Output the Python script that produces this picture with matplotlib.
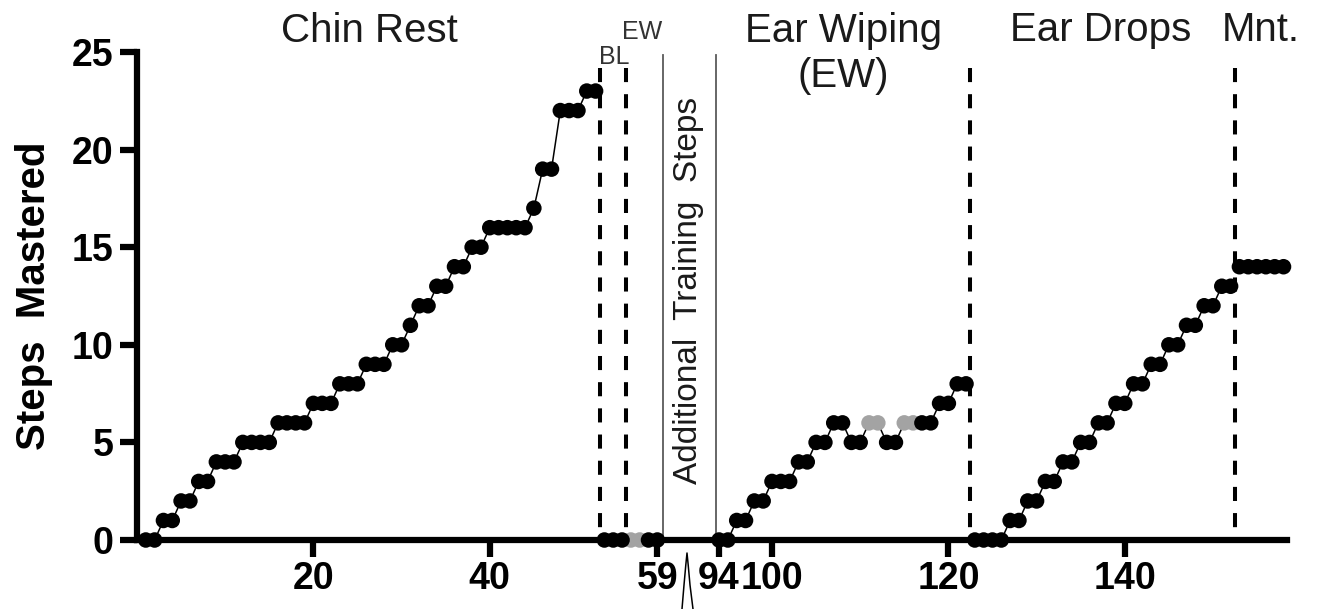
import numpy as np
import matplotlib
matplotlib.use("Agg")
from matplotlib import pyplot as plt
from matplotlib.lines import Line2D

plt.rcParams['font.family'] = ['Liberation Sans', 'DejaVu Sans']

# Daten: Sitzung -> gemeisterte Schritte, je Phase
chin_x = list(range(1, 53))
chin_y = [0, 0, 1, 1, 2, 2, 3, 3, 4, 4, 4, 5, 5, 5, 5, 6, 6, 6, 6, 7, 7, 7,
          8, 8, 8, 9, 9, 9, 10, 10, 11, 12, 12, 13, 13, 14, 14, 15, 15,
          16, 16, 16, 16, 16, 17, 19, 19, 22, 22, 22, 23, 23]
bl_x = [53, 54, 55]
bl_y = [0, 0, 0]
ew1_x = [56, 57, 58, 59]
ew1_y = [0, 0, 0, 0]
ew2_x = list(range(94, 123))
ew2_y = [0, 0, 1, 1, 2, 2, 3, 3, 3, 4, 4, 5, 5, 6, 6, 5, 5, 6, 6, 5, 5,
         6, 6, 6, 6, 7, 7, 8, 8]
drops_x = list(range(123, 153))
drops_y = [0, 0, 0, 0, 1, 1, 2, 2, 3, 3, 4, 4, 5, 5, 6, 6, 7, 7, 8, 8,
           9, 9, 10, 10, 11, 11, 12, 12, 13, 13]
mnt_x = list(range(153, 159))
mnt_y = [14, 14, 14, 14, 14, 14]

gray_sessions = [56, 57, 111, 112, 115, 116]
phase_lines = [52.5, 55.5, 122.5, 152.5]
gap_lines = [62.2, 92.0]

xticks = [20, 40, 59, 94, 100, 120, 140]
yticks = [0, 5, 10, 15, 20, 25]


# gebrochene x-Achse: 59..94 wird auf 7 Einheiten gestaucht
def fwd(v):
    return np.interp(v, [-100, 59, 94, 400], [-100, 59, 66, 372])


def inv(v):
    return np.interp(v, [-100, 59, 66, 372], [-100, 59, 94, 400])


fig = plt.figure(figsize=(13.39, 6.09), dpi=100)
ax = fig.add_axes([0.1023, 0.1133, 0.8589, 0.8013])
ax.set_xscale('function', functions=(fwd, inv))
ax.set_xlim(0, 158.4)
ax.set_ylim(0, 25)

phases = [(chin_x, chin_y), (bl_x, bl_y), (ew1_x, ew1_y), (ew2_x, ew2_y),
          (drops_x, drops_y), (mnt_x, mnt_y)]
for xs, ys in phases:
    ax.plot(xs, ys, color='black', lw=1.1, zorder=3, clip_on=False)
    gx = [x for x in xs if x in gray_sessions]
    gy = [y for x, y in zip(xs, ys) if x in gray_sessions]
    bx = [x for x in xs if x not in gray_sessions]
    by = [y for x, y in zip(xs, ys) if x not in gray_sessions]
    if gx:
        ax.scatter(gx, gy, s=125, color='#a3a3a3', edgecolors='none', zorder=4, clip_on=False)
    ax.scatter(bx, by, s=125, color='black', edgecolors='none', zorder=5, clip_on=False)

# Phasenwechsel
for xl in phase_lines:
    ax.plot([xl, xl], [24.2, 0], color='black', lw=2.9, ls=(0, (3.5, 3.0)), zorder=2)
for xl in gap_lines:
    ax.plot([xl, xl], [0, 24.85], color='#5a5a5a', lw=1.3, zorder=2, clip_on=False)

# Achsen
for s in ['top', 'right']:
    ax.spines[s].set_visible(False)
for s in ['left', 'bottom']:
    ax.spines[s].set_linewidth(4.5)
ax.set_xticks(xticks)
ax.set_xticklabels([str(t) for t in xticks])
ax.set_yticks(yticks)
ax.minorticks_off()
ax.tick_params(width=4.5, length=12, labelsize=27, pad=3)
ax.tick_params(axis='y', pad=5)
for lab in ax.get_xticklabels() + ax.get_yticklabels():
    lab.set_fontweight('bold')

ax.text(-0.0895, 0.5, 'Steps  Mastered', transform=ax.transAxes, rotation=90,
        ha='center', va='center', fontsize=29, fontweight='bold')

# Beschriftungen der Phasen
tc = '#1a1a1a'
ax.text(26.3, 26.1, 'Chin Rest', ha='center', va='center', fontsize=29, color=tc)
ax.text(54.1, 24.74, 'BL', ha='center', va='center', fontsize=18, color='#333333')
ax.text(57.3, 26.05, 'EW', ha='center', va='center', fontsize=18, color='#333333')
ax.text(108.1, 24.92, 'Ear Wiping\n(EW)', ha='center', va='center', fontsize=29,
        color=tc, multialignment='center', linespacing=1.22)
ax.text(137.3, 26.13, 'Ear Drops', ha='center', va='center', fontsize=29, color=tc)
ax.text(155.4, 26.13, 'Mnt.', ha='center', va='center', fontsize=29, color=tc)
ax.text(76.5, 12.8, 'Additional  Training  Steps', rotation=90, ha='center',
        va='center', fontsize=24, color=tc)

# Bruchzeichen unter der Achse
bx_px = [682, 684, 685.8, 687, 688.2, 690, 693]
by_px = [609, 585, 565, 553, 565, 585, 609]
fig.add_artist(Line2D([p / 1339 for p in bx_px], [1 - p / 609 for p in by_px],
                      transform=fig.transFigure, color='black', lw=1.1))

fig.savefig('out.png', dpi=100)
